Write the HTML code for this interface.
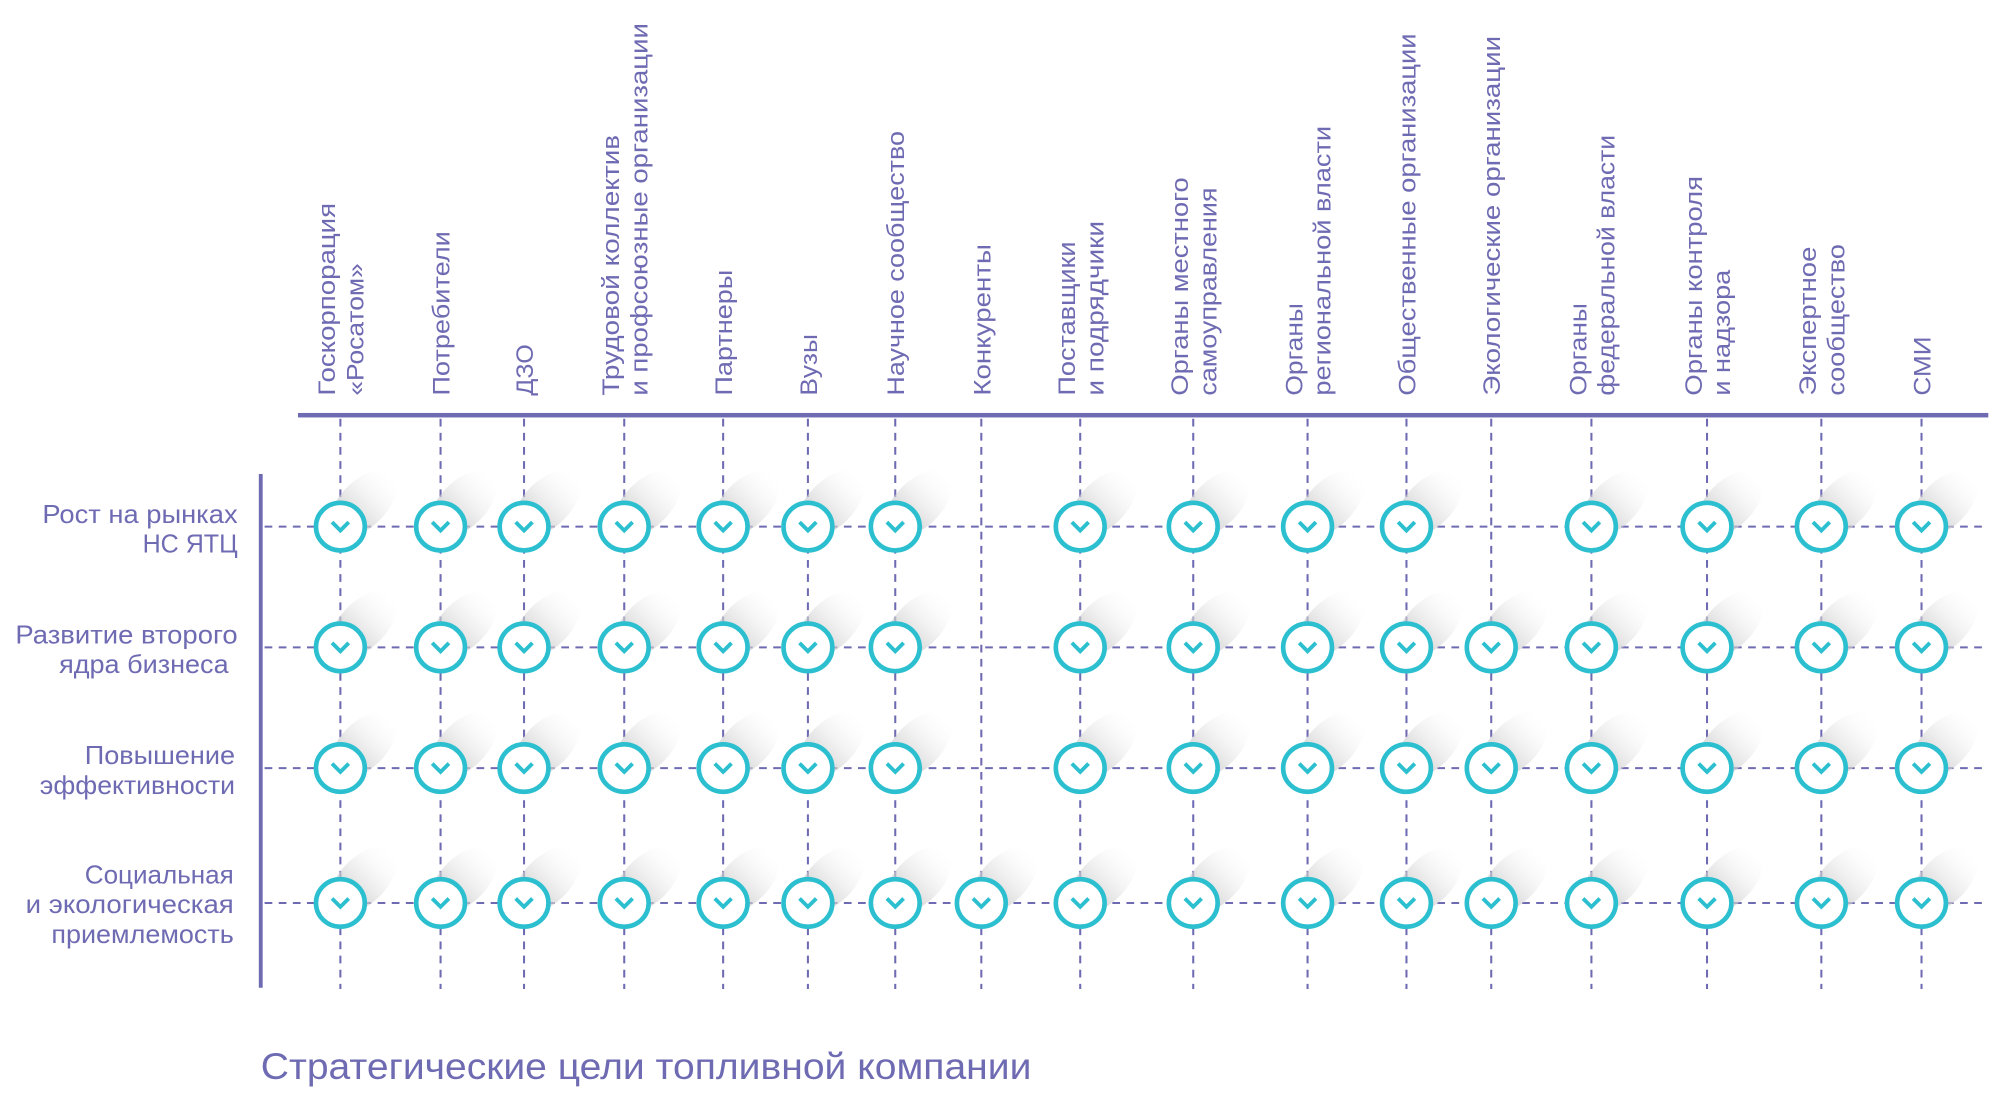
<!DOCTYPE html>
<html><head><meta charset="utf-8"><style>html,body{margin:0;padding:0;background:#fff}svg{display:block}</style></head>
<body>
<svg width="2014" height="1109" viewBox="0 0 1568 863.4" xmlns="http://www.w3.org/2000/svg" xmlns:xlink="http://www.w3.org/1999/xlink" font-family="Liberation Sans, sans-serif" fill="#6f6bb3">
<defs>
<linearGradient id="sh" x1="0" y1="0.5" x2="1" y2="0.5">
<stop offset="0" stop-color="#b8b8b8"/><stop offset="1" stop-color="#fff" stop-opacity="0"/>
</linearGradient>
<g id="c">
<ellipse cx="18" cy="-18" rx="32" ry="18" transform="rotate(-45 18 -18)" fill="url(#sh)"/>
<ellipse cx="0" cy="0" rx="19" ry="18.5" fill="#fff" stroke="#2bbfcf" stroke-width="3.6"/>
<path d="M-6.5,-3.5 L0,3 L6.5,-3.5" fill="none" stroke="#2bbfcf" stroke-width="3"/>
</g>
</defs>
<g stroke="#6f6bb3" stroke-width="1.6" stroke-dasharray="6,5" fill="none">
<path d="M265,326V770M343,326V770M408,326V770M486,326V770M563,326V770M629,326V770M697,326V770M764,326V770M841,326V770M929,326V770M1018,326V770M1095,326V770M1161,326V770M1239,326V770M1329,326V770M1418,326V770M1496,326V770"/>
<path d="M206,410H1548M206,504H1548M206,598H1548M206,703H1548"/>
</g>
<rect x="232" y="321.5" width="1316" height="3.5"/>
<rect x="201.5" y="369" width="3" height="400"/>
<g>
<use xlink:href="#c" x="265" y="410"/><use xlink:href="#c" x="343" y="410"/><use xlink:href="#c" x="408" y="410"/><use xlink:href="#c" x="486" y="410"/><use xlink:href="#c" x="563" y="410"/><use xlink:href="#c" x="629" y="410"/><use xlink:href="#c" x="697" y="410"/><use xlink:href="#c" x="841" y="410"/><use xlink:href="#c" x="929" y="410"/><use xlink:href="#c" x="1018" y="410"/><use xlink:href="#c" x="1095" y="410"/><use xlink:href="#c" x="1239" y="410"/><use xlink:href="#c" x="1329" y="410"/><use xlink:href="#c" x="1418" y="410"/><use xlink:href="#c" x="1496" y="410"/>
<use xlink:href="#c" x="265" y="504"/><use xlink:href="#c" x="343" y="504"/><use xlink:href="#c" x="408" y="504"/><use xlink:href="#c" x="486" y="504"/><use xlink:href="#c" x="563" y="504"/><use xlink:href="#c" x="629" y="504"/><use xlink:href="#c" x="697" y="504"/><use xlink:href="#c" x="841" y="504"/><use xlink:href="#c" x="929" y="504"/><use xlink:href="#c" x="1018" y="504"/><use xlink:href="#c" x="1095" y="504"/><use xlink:href="#c" x="1161" y="504"/><use xlink:href="#c" x="1239" y="504"/><use xlink:href="#c" x="1329" y="504"/><use xlink:href="#c" x="1418" y="504"/><use xlink:href="#c" x="1496" y="504"/>
<use xlink:href="#c" x="265" y="598"/><use xlink:href="#c" x="343" y="598"/><use xlink:href="#c" x="408" y="598"/><use xlink:href="#c" x="486" y="598"/><use xlink:href="#c" x="563" y="598"/><use xlink:href="#c" x="629" y="598"/><use xlink:href="#c" x="697" y="598"/><use xlink:href="#c" x="841" y="598"/><use xlink:href="#c" x="929" y="598"/><use xlink:href="#c" x="1018" y="598"/><use xlink:href="#c" x="1095" y="598"/><use xlink:href="#c" x="1161" y="598"/><use xlink:href="#c" x="1239" y="598"/><use xlink:href="#c" x="1329" y="598"/><use xlink:href="#c" x="1418" y="598"/><use xlink:href="#c" x="1496" y="598"/>
<use xlink:href="#c" x="265" y="703"/><use xlink:href="#c" x="343" y="703"/><use xlink:href="#c" x="408" y="703"/><use xlink:href="#c" x="486" y="703"/><use xlink:href="#c" x="563" y="703"/><use xlink:href="#c" x="629" y="703"/><use xlink:href="#c" x="697" y="703"/><use xlink:href="#c" x="764" y="703"/><use xlink:href="#c" x="841" y="703"/><use xlink:href="#c" x="929" y="703"/><use xlink:href="#c" x="1018" y="703"/><use xlink:href="#c" x="1095" y="703"/><use xlink:href="#c" x="1161" y="703"/><use xlink:href="#c" x="1239" y="703"/><use xlink:href="#c" x="1329" y="703"/><use xlink:href="#c" x="1418" y="703"/><use xlink:href="#c" x="1496" y="703"/>
</g>
<g font-size="20" text-anchor="end">
<text x="185" y="407" textLength="152" lengthAdjust="spacingAndGlyphs">Рост на рынках</text>
<text x="185" y="430" textLength="74" lengthAdjust="spacingAndGlyphs">НС ЯТЦ</text>
<text x="185" y="501" textLength="173" lengthAdjust="spacingAndGlyphs">Развитие второго</text>
<text x="178" y="524" textLength="132" lengthAdjust="spacingAndGlyphs">ядра бизнеса</text>
<text x="183" y="595" textLength="117" lengthAdjust="spacingAndGlyphs">Повышение</text>
<text x="183" y="618" textLength="152" lengthAdjust="spacingAndGlyphs">эффективности</text>
<text x="182" y="688" textLength="116" lengthAdjust="spacingAndGlyphs">Социальная</text>
<text x="182" y="711" textLength="162" lengthAdjust="spacingAndGlyphs">и экологическая</text>
<text x="182" y="734" textLength="142" lengthAdjust="spacingAndGlyphs">приемлемость</text>
</g>
<text x="203" y="840" font-size="29" textLength="600" lengthAdjust="spacingAndGlyphs">Стратегические цели топливной компании</text>
<g font-size="19">
<text transform="translate(261,308) rotate(-90)" textLength="150" lengthAdjust="spacingAndGlyphs">Госкорпорация</text>
<text transform="translate(283,308) rotate(-90)" textLength="103" lengthAdjust="spacingAndGlyphs">«Росатом»</text>
<text transform="translate(350,308) rotate(-90)" textLength="128" lengthAdjust="spacingAndGlyphs">Потребители</text>
<text transform="translate(415,308) rotate(-90)" textLength="40" lengthAdjust="spacingAndGlyphs">ДЗО</text>
<text transform="translate(482,308) rotate(-90)" textLength="203" lengthAdjust="spacingAndGlyphs">Трудовой коллектив</text>
<text transform="translate(504,308) rotate(-90)" textLength="290" lengthAdjust="spacingAndGlyphs">и профсоюзные организации</text>
<text transform="translate(570,308) rotate(-90)" textLength="98" lengthAdjust="spacingAndGlyphs">Партнеры</text>
<text transform="translate(636,308) rotate(-90)" textLength="48" lengthAdjust="spacingAndGlyphs">Вузы</text>
<text transform="translate(704,308) rotate(-90)" textLength="206" lengthAdjust="spacingAndGlyphs">Научное сообщество</text>
<text transform="translate(771,308) rotate(-90)" textLength="118" lengthAdjust="spacingAndGlyphs">Конкуренты</text>
<text transform="translate(837,308) rotate(-90)" textLength="120" lengthAdjust="spacingAndGlyphs">Поставщики</text>
<text transform="translate(859,308) rotate(-90)" textLength="136" lengthAdjust="spacingAndGlyphs">и подрядчики</text>
<text transform="translate(925,308) rotate(-90)" textLength="170" lengthAdjust="spacingAndGlyphs">Органы местного</text>
<text transform="translate(947,308) rotate(-90)" textLength="162" lengthAdjust="spacingAndGlyphs">самоуправления</text>
<text transform="translate(1014,308) rotate(-90)" textLength="72" lengthAdjust="spacingAndGlyphs">Органы</text>
<text transform="translate(1036,308) rotate(-90)" textLength="210" lengthAdjust="spacingAndGlyphs">региональной власти</text>
<text transform="translate(1102,308) rotate(-90)" textLength="282" lengthAdjust="spacingAndGlyphs">Общественные организации</text>
<text transform="translate(1168,308) rotate(-90)" textLength="280" lengthAdjust="spacingAndGlyphs">Экологические организации</text>
<text transform="translate(1235,308) rotate(-90)" textLength="72" lengthAdjust="spacingAndGlyphs">Органы</text>
<text transform="translate(1257,308) rotate(-90)" textLength="203" lengthAdjust="spacingAndGlyphs">федеральной власти</text>
<text transform="translate(1325,308) rotate(-90)" textLength="171" lengthAdjust="spacingAndGlyphs">Органы контроля</text>
<text transform="translate(1347,308) rotate(-90)" textLength="98" lengthAdjust="spacingAndGlyphs">и надзора</text>
<text transform="translate(1414,308) rotate(-90)" textLength="116" lengthAdjust="spacingAndGlyphs">Экспертное</text>
<text transform="translate(1436,308) rotate(-90)" textLength="118" lengthAdjust="spacingAndGlyphs">сообщество</text>
<text transform="translate(1503,308) rotate(-90)" textLength="46" lengthAdjust="spacingAndGlyphs">СМИ</text>
</g>
</svg>
</body></html>
